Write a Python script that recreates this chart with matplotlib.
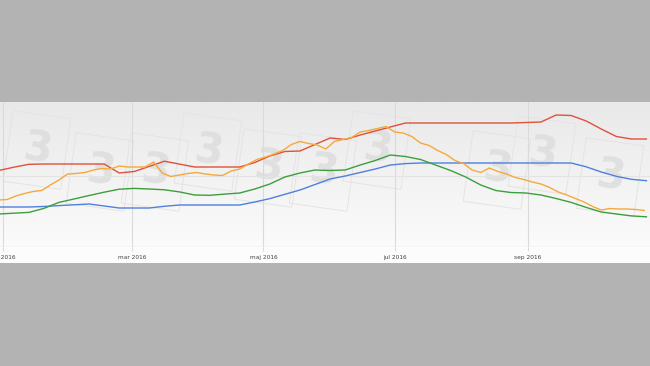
import matplotlib

matplotlib.use("Agg")
import matplotlib.pyplot as plt
import matplotlib.dates as mdates
import numpy as np
import pandas as pd
from matplotlib.patches import Rectangle

# weekly samples (red / blue / green) and 4-day samples (orange)
weeks = pd.date_range("2015-12-30", periods=44, freq="7D")
days4 = pd.date_range("2015-12-30", periods=76, freq="4D")

red = [76.5, 79.8, 82.7, 83, 83, 83, 83, 83, 74, 75.5, 80.6, 85.8, 82.9, 80,
       80, 80, 80, 84.5, 91, 95.5, 96, 102.5, 109, 107.5, 112, 116, 120, 124,
       124, 124, 124, 124, 124, 124, 124, 124.5, 125, 132, 131.5, 126, 118,
       110.5, 108, 108]
blue = [40, 40, 40, 40.5, 41.4, 42.2, 43, 41, 39, 39, 39, 40.7, 42, 42, 42,
        42, 42, 45, 48.4, 52.7, 57, 62.5, 68, 71, 74.5, 78, 82, 83.4, 84, 84,
        84, 84, 84, 84, 84, 84, 84, 84, 84, 80.2, 75, 70.7, 67.7, 66.3]
green = [33, 33.8, 34.6, 38.6, 44.6, 48, 51.5, 54.8, 57.8, 58.6, 58, 57.2,
         55.1, 52, 51.7, 52.9, 54, 58, 63, 70, 74, 77, 76.5, 77, 82, 86.5, 92,
         90.5, 87.5, 82, 76.5, 70, 62, 56.5, 54.5, 54, 52, 48.5, 44.6, 39.6,
         35, 33, 31.1, 30.2]
orange = [47, 47.5, 51, 53.5, 55.5, 56.5, 62, 67, 73, 73.5, 74.5, 77, 78.5, 78,
          81, 80, 80, 80, 85, 74, 70.5, 72, 73.5, 74.5, 73, 72, 71.5, 76, 78,
          83, 87.5, 90, 93, 96.5, 102.5, 105.5, 103.5, 102, 98, 105.5, 107.5,
          109.5, 115, 116.5, 118.5, 120.5, 115, 114, 110.5, 104, 101.5, 96.5,
          92.5, 86.5, 83.5, 77, 74.5, 79, 75.5, 73, 69.5, 67.5, 65, 63, 59.5,
          55, 52, 48.5, 45, 40.5, 37, 38.5, 38, 38, 37.5, 36.5]

tick_dates = ["2016-01-01", "2016-03-01", "2016-05-01", "2016-07-01", "2016-09-01"]
tick_labels = ["jan 2016", "mar 2016", "maj 2016", "jul 2016", "sep 2016"]

GRID = "#dadada"
W, H = 650, 366

fig = plt.figure(figsize=(6.5, 3.66), dpi=100, facecolor="#b3b3b3")
# white panel behind plot + label strip
fig.patches.append(Rectangle((0, (H - 263) / H), 1, 161 / H, transform=fig.transFigure,
                             fc="#fcfcfc", ec="none", zorder=-5))
ax = fig.add_axes([0, (H - 247) / H, 1, 145 / H])
ax.set_facecolor("none")

x0 = mdates.date2num(pd.Timestamp("2016-01-01")) - 1.39
x1 = mdates.date2num(pd.Timestamp("2016-01-01")) + 300.65
ax.set_xlim(x0, x1)
ax.set_ylim(0, 145)

# soft vertical gradient background
grad = np.linspace(0, 1, 100).reshape(-1, 1)
ax.imshow(grad, extent=[x0, x1, 0, 145], aspect="auto", origin="lower",
          cmap=matplotlib.colors.LinearSegmentedColormap.from_list("g", ["#fbfbfb", "#e9e9e9"]),
          zorder=0)

# faded "3" watermarks in tilted squares
marks = [(37, 150), (100, 172), (155, 172), (208, 152), (268, 168), (323, 172),
         (377, 150), (497, 170), (542, 155), (610, 177)]
for px, py in marks:
    ax.text(px / W, (247 - py) / 145, "3", transform=ax.transAxes, ha="center",
            va="center", fontsize=30, fontweight="bold", color="#dcdcdc",
            alpha=0.8, rotation=-8, zorder=1,
            bbox=dict(boxstyle="square,pad=0.35", fc="none", ec="#e4e4e4", lw=0.7))

for d in tick_dates:
    ax.axvline(pd.Timestamp(d), color=GRID, lw=0.8, zorder=1)
ax.axhline(71, color="#e3e3e3", lw=0.8, zorder=1)
ax.axhline(0, color="#e3e3e3", lw=1.0, zorder=1)

ax.plot(weeks, blue, color="#4f80dc", lw=1.0, zorder=3)
ax.plot(weeks, green, color="#3c9f3c", lw=1.0, zorder=3)
ax.plot(weeks, red, color="#df5139", lw=1.0, zorder=3)
ax.plot(days4, orange, color="#f5a93c", lw=1.0, zorder=4)

ax.set_xticks([pd.Timestamp(d) for d in tick_dates])
ax.set_xticklabels(tick_labels, fontsize=4.2, color="#444444")
ax.tick_params(axis="x", length=3, width=0.8, color=GRID, pad=3)
ax.set_yticks([])
for s in ax.spines.values():
    s.set_visible(False)

fig.savefig("out.png", dpi=100, facecolor=fig.get_facecolor())
